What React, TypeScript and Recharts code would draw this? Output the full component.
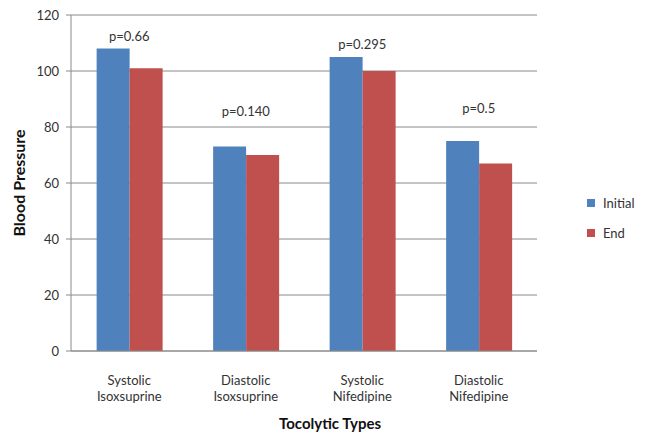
import React from 'react';
import {
  BarChart, Bar, Line, XAxis, YAxis, CartesianGrid, LabelList, Label
} from 'recharts';

const categories = ['Systolic\nIsoxsuprine', 'Diastolic\nIsoxsuprine', 'Systolic\nNifedipine', 'Diastolic\nNifedipine'];
const initialValues = [108, 73, 105, 75];
const endValues = [101, 70, 100, 67];
const pValues = ['p=0.66', 'p=0.140', 'p=0.295', 'p=0.5'];
// level (in blood pressure units) at which each p label sits
const pLevels = [112.5, 85.5, 109.5, 86.5];
const yTicks = [0, 20, 40, 60, 80, 100, 120];

const seriesNames = ['Initial', 'End'];
const seriesColors = ['#4F81BD', '#C0504D'];

const data = categories.map((name, i) => ({
  name,
  initial: initialValues[i],
  end: endValues[i],
  p: pValues[i],
  pAt: pLevels[i],
}));

const FONT = 'Lato, "Open Sans", sans-serif';

const CategoryTick = (props: any) => {
  const { x, y, payload } = props;
  const lines = String(payload.value).split('\n');
  return (
    <g transform={`translate(${x},${y})`}>
      {lines.map((line, i) => (
        <text key={i} x={0} y={26 + i * 16} textAnchor="middle" fill="#333" fontSize={13} fontFamily={FONT}>
          {line}
        </text>
      ))}
    </g>
  );
};

export default function App() {
  return (
    <div style={{ position: 'absolute', left: 0, top: 0, width: 651, height: 435, background: '#fff' }}>
      <BarChart
        width={651}
        height={435}
        data={data}
        margin={{ top: 15, right: 114, left: 0, bottom: 0 }}
        barCategoryGap="22%"
        barGap={0}
      >
        <CartesianGrid vertical={false} stroke="#8a8a8a" />
        <XAxis
          dataKey="name"
          height={84}
          tick={<CategoryTick />}
          tickLine={false}
          axisLine={{ stroke: '#8a8a8a' }}
          interval={0}
        >
          <Label
            value="Tocolytic Types"
            position="insideBottom"
            offset={6}
            dx={26}
            style={{ fontFamily: FONT, fontWeight: 700, fontSize: 15, fill: '#111' }}
          />
        </XAxis>
        <YAxis
          width={71}
          domain={[0, 120]}
          ticks={yTicks}
          tickSize={5}
          tickMargin={7}
          tickLine={{ stroke: '#8a8a8a' }}
          axisLine={{ stroke: '#8a8a8a' }}
          tick={{ fontSize: 13, fill: '#333', fontFamily: FONT }}
        >
          <Label
            value="Blood Pressure"
            angle={-90}
            position="insideLeft"
            offset={19}
            style={{ textAnchor: 'middle', fontFamily: FONT, fontWeight: 700, fontSize: 16, fill: '#111' }}
          />
        </YAxis>
        <Bar dataKey="initial" name={seriesNames[0]} fill={seriesColors[0]} isAnimationActive={false} />
        <Bar dataKey="end" name={seriesNames[1]} fill={seriesColors[1]} isAnimationActive={false} />
        <Line dataKey="pAt" stroke="none" dot={false} activeDot={false} isAnimationActive={false} legendType="none">
          <LabelList dataKey="p" position="center" style={{ fontSize: 13, fill: '#333', fontFamily: FONT }} />
        </Line>
      </BarChart>
      <div style={{ position: 'absolute', left: 587, top: 188, fontFamily: FONT, fontSize: 13, color: '#333' }}>
        {seriesNames.map((n, i) => (
          <div key={n} style={{ display: 'flex', alignItems: 'center', height: 30 }}>
            <span style={{ width: 8, height: 8, background: seriesColors[i], marginRight: 8, display: 'inline-block' }} />
            {n}
          </div>
        ))}
      </div>
    </div>
  );
}
